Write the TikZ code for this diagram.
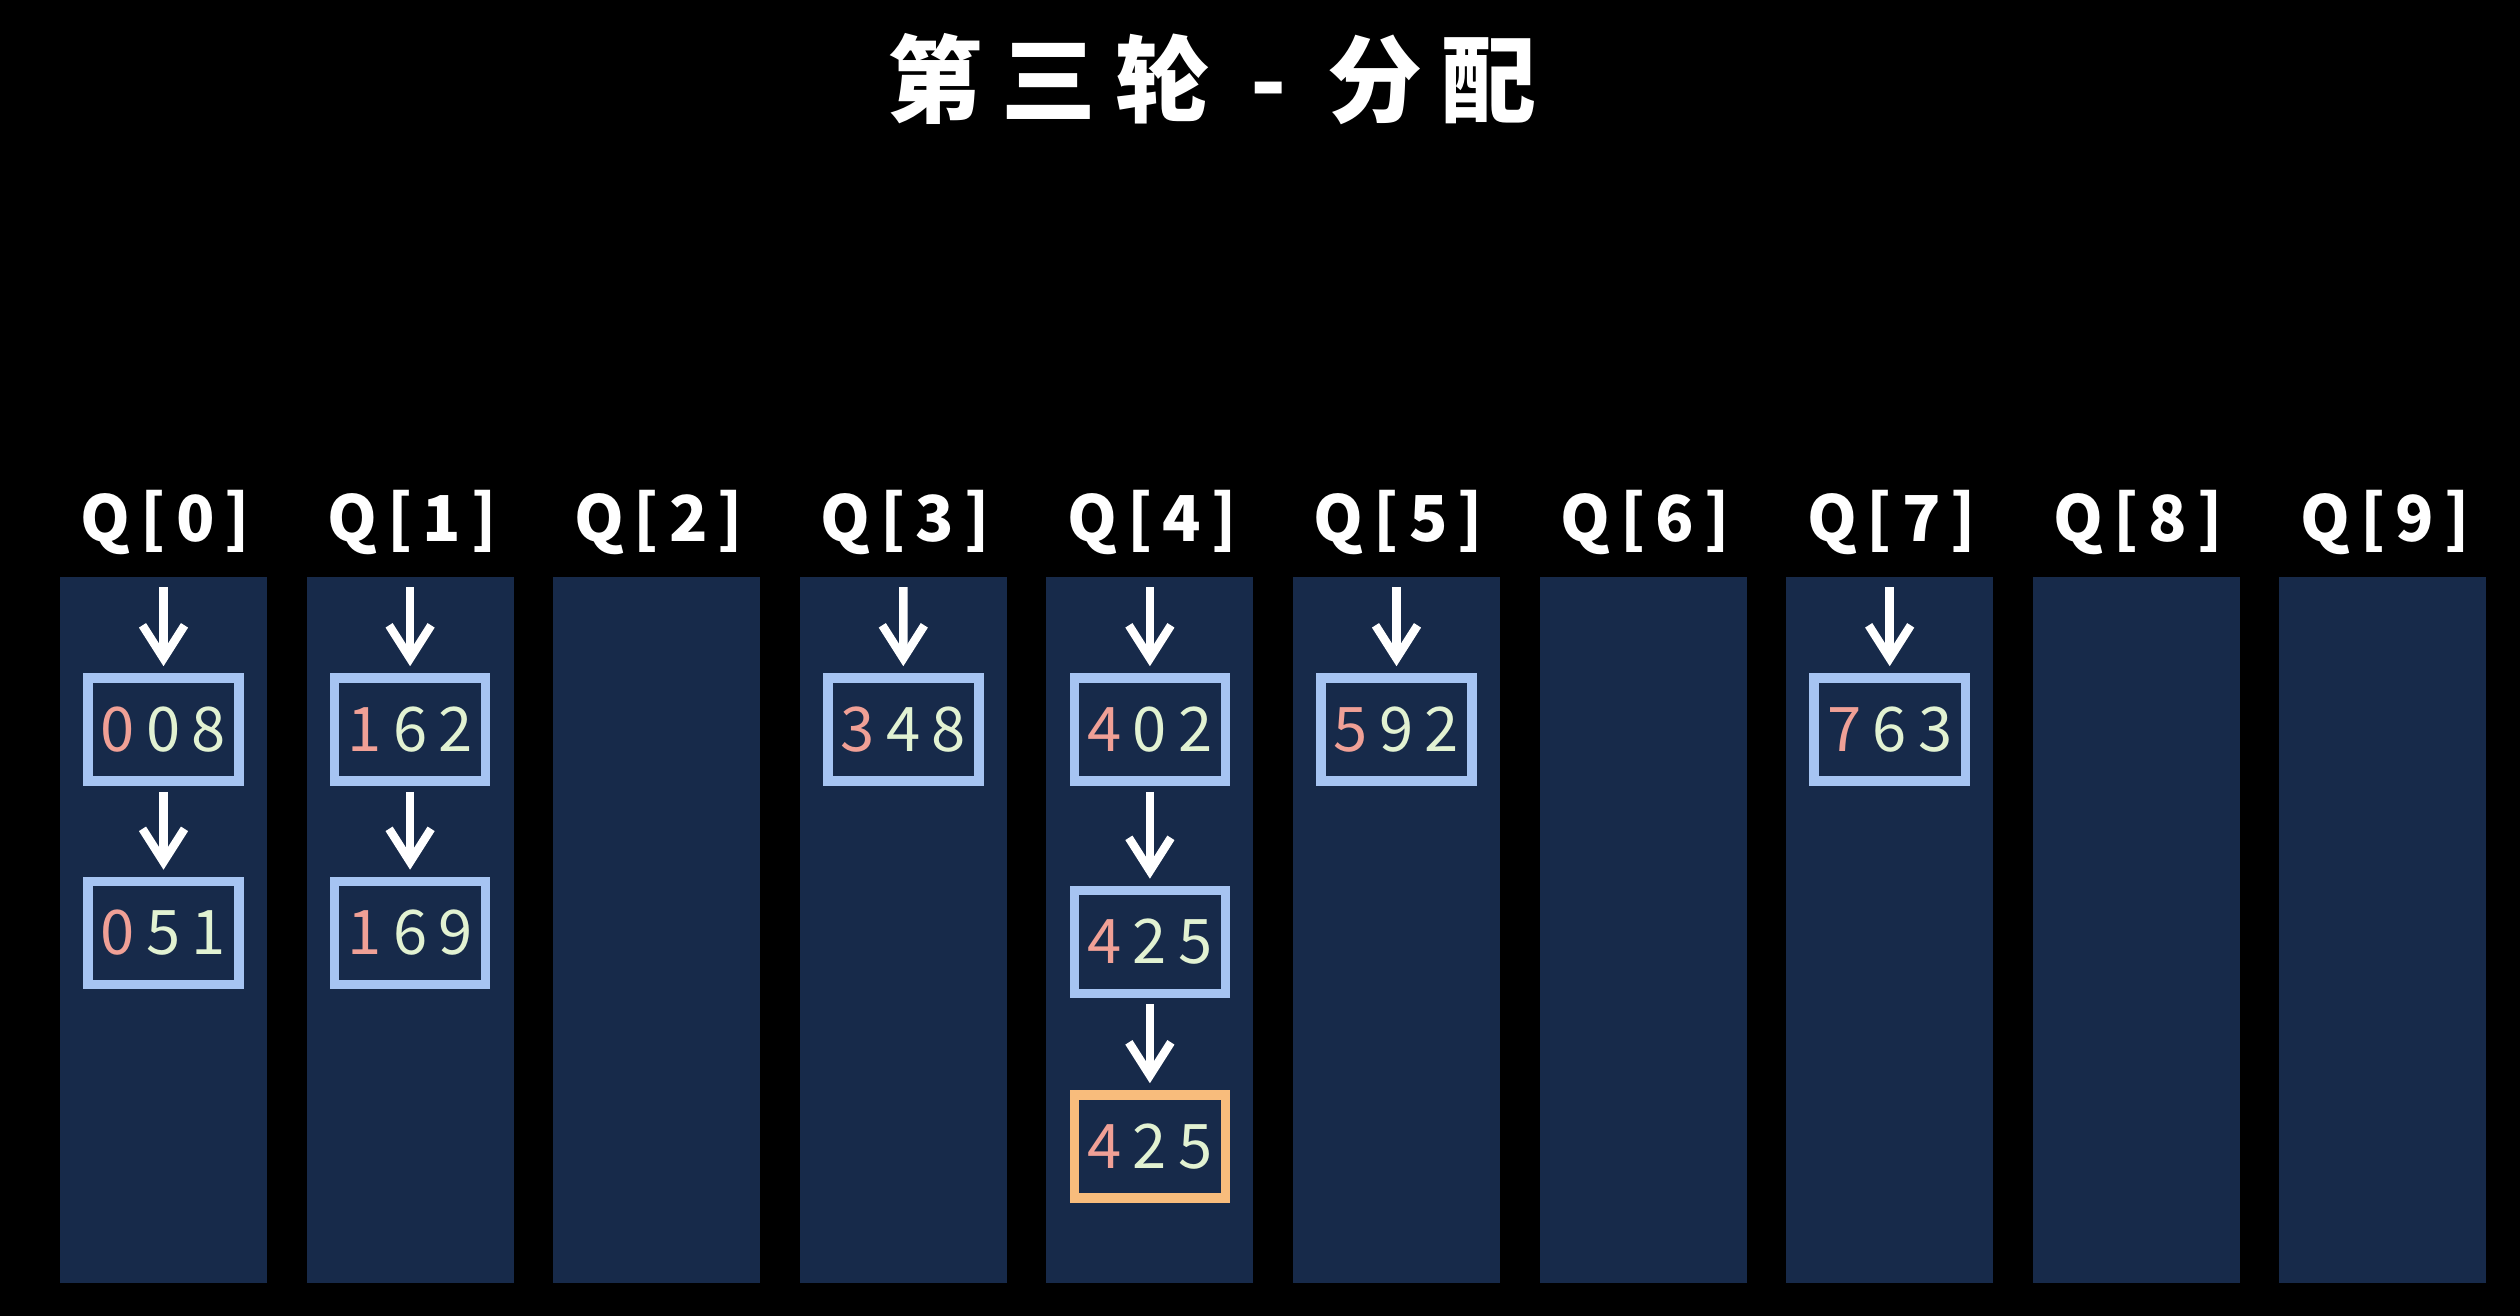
\documentclass[tikz,border=0pt]{standalone}
\usepackage{fontspec}
\usetikzlibrary{arrows.meta}
\newfontfamily\cjk{Noto Sans CJK SC}
\definecolor{colbg}{HTML}{172A4A}
\definecolor{boxblue}{HTML}{A6C4F2}
\definecolor{boxorange}{HTML}{F8BC7C}
\definecolor{dpink}{HTML}{F0A096}
\definecolor{dgreen}{HTML}{E2F2D2}
\newcommand\dg[2]{\makebox[0.455cm]{\color{#1}#2}}
\newcommand\numtxt[3]{\dg{dpink}{#1}\dg{dgreen}{#2}\dg{dgreen}{#3}}
\begin{document}
\begin{tikzpicture}[x=0.01cm,y=-0.01cm,
  queue/.style={fill=colbg, draw=none, inner sep=0pt, outer sep=0pt, minimum width=2.07cm, minimum height=7.06cm, anchor=north},
  qlabel/.style={text=white, anchor=base, inner sep=0pt, font=\cjk\bfseries\fontsize{18}{20}\selectfont\addfontfeatures{LetterSpace=16}},
  titlestyle/.style={text=white, inner sep=0pt, font=\cjk\bfseries\fontsize{27}{30}\selectfont\addfontfeatures{LetterSpace=20}},
  item/.style={draw=boxblue, line width=2.7pt, fill=colbg, minimum width=1.51cm, minimum height=1.03cm, inner sep=0pt, font=\cjk\fontsize{17.5}{20}\selectfont},
  newitem/.style={item, draw=boxorange},
  link/.style={white, line width=2.4pt, -{Straight Barb[length=3.3mm,width=4.2mm]}, shorten >=0.07cm},
]
\fill[black] (0,0) rectangle (2520,1316);
\node[titlestyle] (title) at (1212,79) {第三轮 - 分配};
\foreach \i in {0,...,9} {
  \pgfmathsetmacro\xc{163.5+246.6*\i}
  \node[queue] (c\i) at (\xc,577) {};
  \node[qlabel] (q\i) at (\xc+2,542) {Q[\i]\hspace{-0.16em}};
}
% items
\node[item] (b008) at (163.5,729.5) {\numtxt008};
\node[item] (b051) at (163.5,933) {\numtxt051};
\node[item] (b162) at (410.1,729.5) {\numtxt162};
\node[item] (b169) at (410.1,933) {\numtxt169};
\node[item] (b348) at (903.3,729.5) {\numtxt348};
\node[item] (b402) at (1149.9,729.5) {\numtxt402};
\node[item] (b425) at (1149.9,942) {\numtxt425};
\node[newitem] (b425n) at (1149.9,1146.5) {\numtxt425};
\node[item] (b592) at (1396.5,729.5) {\numtxt592};
\node[item] (b763) at (1889.7,729.5) {\numtxt763};
% arrows from queue heads
\foreach \c/\b in {c0/b008, c1/b162, c3/b348, c4/b402, c5/b592, c7/b763} {
  \draw[link] ([yshift=-0.1cm]\c.north) -- (\b.north);
}
% arrows between items
\draw[link, shorten <=0.06cm] (b008.south) -- (b051.north);
\draw[link, shorten <=0.06cm] (b162.south) -- (b169.north);
\draw[link, shorten <=0.06cm] (b402.south) -- (b425.north);
\draw[link, shorten <=0.06cm] (b425.south) -- (b425n.north);
\end{tikzpicture}
\end{document}
